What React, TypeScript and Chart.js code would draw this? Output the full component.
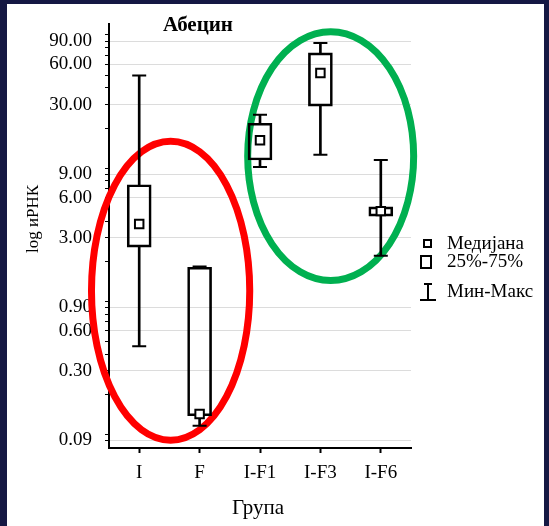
import React, { useEffect, useRef } from 'react';
import { Chart, registerables } from 'chart.js';

Chart.register(...registerables);

// ---- data ----
const categories = ['I', 'F', 'I-F1', 'I-F3', 'I-F6'];
const minValues = [0.46, 0.116, 10.2, 12.6, 2.2];
const q1Values = [2.55, 0.138, 11.5, 29.2, 4.36];
const medianValues = [3.8, 0.142, 16.2, 51.8, 4.75];
const q3Values = [7.5, 1.8, 21.7, 73.3, 5.11];
const maxValues = [49.5, 1.82, 25.1, 86.9, 11.5];
const labeledTicks = [0.09, 0.3, 0.6, 0.9, 3, 6, 9, 30, 60, 90];
const minorTicks = [0.1, 0.2, 0.4, 0.5, 0.7, 0.8, 1, 2, 4, 5, 7, 8, 10, 20, 40, 50, 70, 80, 100];
const legendLabels = ['Медијана', '25%-75%', 'Мин-Макс'];
const chartTitle = 'Абецин';
const yTitle = 'log иРНК';
const xTitle = 'Група';

// annotation ellipses (category index / data units)
const ellipses = [
  { cx: 0.52, rx: 1.31, top: 15.9, bottom: 0.0903, color: '#ff0000' },
  { cx: 3.17, rx: 1.374, top: 105.8, bottom: 1.43, color: '#00b050' },
];

const FONT = "'Liberation Serif', 'Times New Roman', serif";
const allTicks = [...labeledTicks, ...minorTicks].sort((a, b) => a - b);
const isLabeled = (v: number) => labeledTicks.some((t) => Math.abs(t - v) / t < 1e-6);

const overlayPlugin = {
  id: 'overlay',
  beforeDatasetsDraw(chart: any) {
    const { ctx } = chart;
    const x = chart.scales.x;
    const y = chart.scales.y;
    ctx.save();
    ctx.lineWidth = 7;
    for (const e of ellipses) {
      const cx = x.getPixelForValue(e.cx);
      const rx = Math.abs(x.getPixelForValue(e.cx + e.rx) - cx);
      const t = y.getPixelForValue(e.top);
      const b = y.getPixelForValue(e.bottom);
      ctx.beginPath();
      ctx.strokeStyle = e.color;
      ctx.ellipse(cx, (t + b) / 2, rx, (b - t) / 2, 0, 0, Math.PI * 2);
      ctx.stroke();
    }
    ctx.restore();
  },
  afterDraw(chart: any) {
    const { ctx } = chart;
    ctx.save();
    ctx.fillStyle = '#000';
    ctx.textAlign = 'center';
    ctx.textBaseline = 'middle';
    // title
    ctx.font = `bold 21px ${FONT}`;
    ctx.fillText(chartTitle, 198, 26);
    // x title
    ctx.font = `21px ${FONT}`;
    ctx.fillText(xTitle, 258, 508);
    // y title
    ctx.save();
    ctx.translate(34, 219);
    ctx.rotate(-Math.PI / 2);
    ctx.font = `17px ${FONT}`;
    ctx.fillText(yTitle, 0, 0);
    ctx.restore();
    // legend
    ctx.textAlign = 'left';
    ctx.font = `19px ${FONT}`;
    ctx.strokeStyle = '#000';
    ctx.lineWidth = 2;
    const lx = 447;
    ctx.fillText(legendLabels[0], lx, 244);
    ctx.strokeRect(424, 240, 7, 7);
    ctx.fillText(legendLabels[1], lx, 262);
    ctx.strokeRect(421, 256, 10, 12);
    ctx.fillText(legendLabels[2], lx, 292);
    ctx.beginPath();
    ctx.moveTo(424, 284);
    ctx.lineTo(432, 284);
    ctx.moveTo(428, 284);
    ctx.lineTo(428, 300);
    ctx.moveTo(420, 300);
    ctx.lineTo(436, 300);
    ctx.stroke();
    ctx.restore();
  },
};

export default function App() {
  const ref = useRef<HTMLCanvasElement | null>(null);

  useEffect(() => {
    if (!ref.current) return;
    const chart = new Chart(ref.current, {
      type: 'bar',
      data: {
        labels: categories,
        datasets: [
          {
            type: 'line',
            data: medianValues,
            showLine: false,
            pointStyle: 'rect',
            pointRadius: 6,
            pointBorderWidth: 2,
            pointBackgroundColor: '#fff',
            pointBorderColor: '#000',
            order: 1,
          } as any,
          {
            type: 'line',
            data: maxValues,
            showLine: false,
            pointStyle: 'line',
            pointRadius: 7,
            pointBorderWidth: 2,
            pointBorderColor: '#000',
            borderColor: '#000',
            order: 2,
          } as any,
          {
            type: 'line',
            data: minValues,
            showLine: false,
            pointStyle: 'line',
            pointRadius: 7,
            pointBorderWidth: 2,
            pointBorderColor: '#000',
            borderColor: '#000',
            order: 2,
          } as any,
          {
            type: 'bar',
            data: q1Values.map((v, i) => [v, q3Values[i]]),
            backgroundColor: 'rgba(0,0,0,0)',
            borderColor: '#000',
            borderWidth: 2,
            borderSkipped: false,
            barThickness: 24,
            grouped: false,
            order: 3,
          } as any,
          {
            type: 'bar',
            data: q3Values.map((v, i) => [v, maxValues[i]]),
            backgroundColor: '#000',
            borderWidth: 0,
            barThickness: 2,
            grouped: false,
            order: 4,
          } as any,
          {
            type: 'bar',
            data: minValues.map((v, i) => [v, q1Values[i]]),
            backgroundColor: '#000',
            borderWidth: 0,
            barThickness: 2,
            grouped: false,
            order: 4,
          } as any,
        ],
      },
      options: {
        animation: false,
        responsive: false,
        layout: { padding: { top: 19, right: 138, left: 0, bottom: 0 } },
        plugins: {
          legend: { display: false },
          tooltip: { enabled: false },
          title: { display: false },
        },
        scales: {
          x: {
            type: 'category',
            offset: true,
            grid: {
              display: true,
              drawOnChartArea: false,
              offset: false,
              tickLength: 5,
              tickColor: '#000',
              tickWidth: 2,
            },
            border: { color: '#000', width: 2 },
            ticks: {
              color: '#000',
              font: { family: FONT, size: 19 },
              padding: 9,
              maxRotation: 0,
            },
            afterFit: (s: any) => {
              s.height = 78;
            },
          },
          y: {
            type: 'logarithmic',
            min: 0.079,
            max: 120,
            afterBuildTicks: (s: any) => {
              s.ticks = allTicks.map((v) => ({ value: v }));
            },
            grid: {
              color: (c: any) => (c.tick && isLabeled(c.tick.value) ? '#dcdcdc' : 'rgba(0,0,0,0)'),
              tickColor: '#000',
              tickLength: 4,
              lineWidth: 1,
            },
            border: { color: '#000', width: 2 },
            ticks: {
              autoSkip: false,
              color: '#000',
              font: { family: FONT, size: 19 },
              padding: 13,
              callback: (v: any) => (isLabeled(Number(v)) ? Number(v).toFixed(2) : ''),
            },
            afterFit: (s: any) => {
              s.width = 109;
            },
          },
        } as any,
      },
      plugins: [overlayPlugin],
    });
    return () => chart.destroy();
  }, []);

  return (
    <div
      style={{
        position: 'fixed',
        left: 0,
        top: 0,
        width: 549,
        height: 526,
        background: '#151843',
      }}
    >
      <div
        style={{
          position: 'absolute',
          left: 7,
          top: 4,
          right: 5,
          bottom: 0,
          background: '#ffffff',
        }}
      />
      <canvas
        ref={ref}
        width={549}
        height={526}
        style={{ position: 'absolute', left: 0, top: 0, width: 549, height: 526 }}
      />
    </div>
  );
}
